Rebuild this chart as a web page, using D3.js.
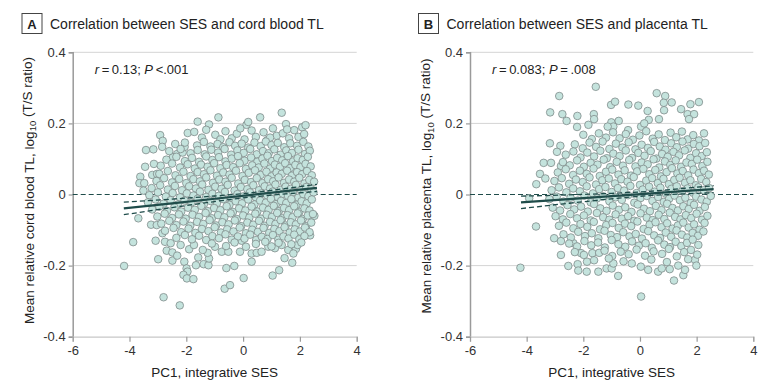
<!DOCTYPE html>
<html>
<head>
<meta charset="utf-8">
<script src="https://cdn.jsdelivr.net/npm/d3@7"></script>
<style>
  body { margin: 0; background: #fff; }
  svg { display: block; font-family: "Liberation Sans", Arial, sans-serif; }
</style>
</head>
<body>
<svg width="780" height="391"></svg>
<script>
const xTicks = [-6, -4, -2, 0, 2, 4];
const yTicks = [-0.4, -0.2, 0, 0.2, 0.4];
const gridTicks = [0.4, 0.2, -0.2];

// points (PC1, mean relative cord blood TL)
const cordPoints = [
  [-0.87,0.217],[-1.60,0.205],[-1.20,0.197],[-1.95,0.173],[0.12,0.196],[0.18,0.204],[0.60,0.217],[1.36,0.230],[1.51,0.198],[2.08,0.189],[2.20,0.195],
  [-2.92,0.167],[-2.83,0.151],[-2.85,0.134],[-3.42,0.125],[-3.16,0.127],[-2.39,0.142],[-2.32,0.114],[-2.13,0.118],[-2.06,0.134],[-2.47,0.105],
  [-3.14,0.086],[-3.45,0.078],[-3.20,0.055],[-3.03,0.058],[-3.62,0.050],[-3.65,0.032],[-3.48,0.032],[-3.51,0.011],
  [-4.19,-0.201],[-3.87,-0.134],[-3.69,-0.067],[-2.80,-0.289],[-2.23,-0.312],[-2.99,-0.182],[-3.08,-0.130],[-3.24,-0.085],[-3.04,-0.086],
  [-0.65,-0.265],[-0.46,-0.255],[0.02,-0.235],[-0.59,-0.207],[-0.31,-0.201],[0.30,-0.189],[1.04,-0.228],[1.27,-0.213],[1.46,-0.179],[1.73,-0.192],
  [1.86,-0.153],[2.36,-0.115],[2.51,-0.060],
  [-2.84,-0.109],[-2.75,-0.133],[-2.55,-0.137],[-2.69,-0.158],[-2.49,-0.163],[-2.49,-0.186],[-2.32,-0.172],[-2.07,-0.189],[-1.99,-0.208],
  [-1.96,-0.217],[-2.10,-0.226],[-1.98,-0.236],[-1.75,-0.238],[-1.66,-0.199],[-1.58,-0.177],[-1.39,-0.196],[-1.22,-0.199],[-1.20,-0.180],
  [-1.25,-0.164],[-1.90,-0.154],[-1.73,-0.142],[-1.42,-0.156],[-0.99,-0.147],[-0.75,-0.161],[-0.52,-0.161],[-0.11,-0.161],[-0.05,-0.130],
  [0.30,-0.166],[0.48,-0.164],[0.65,-0.161],[0.89,-0.147],[1.12,-0.151],[1.36,-0.142],[1.59,-0.156],[1.77,-0.166],[1.92,-0.142],
  [-1.72,0.176],[-1.45,0.160],[-1.30,0.182],[-0.98,0.168],[-0.80,0.155],[-0.62,0.178],[-0.40,0.158],[-0.22,0.171],[0.05,0.155],[0.30,0.180],
  [0.45,0.162],[0.72,0.175],[0.85,0.153],[1.05,0.186],[1.18,0.165],[1.40,0.172],[1.62,0.158],[1.80,0.181],[1.95,0.162],[2.15,0.170],[0.95,0.160],[1.55,0.183],[-0.10,0.186],
  [-2.05,0.146],[-1.62,0.138],[-1.38,0.148],[-1.15,0.135],[-0.90,0.142],[-0.70,0.133],[-0.48,0.147],[-0.28,0.137],[-0.05,0.143],[0.18,0.132],
  [0.40,0.146],[0.62,0.136],[0.80,0.149],[1.00,0.139],[1.22,0.145],[1.45,0.133],[1.66,0.144],[1.90,0.137],[2.12,0.148],[2.30,0.135],
  [-2.60,0.122],[-2.20,0.128],[-1.85,0.116],[-1.60,0.125],[-1.35,0.113],[-1.12,0.126],[-0.88,0.118],[-0.65,0.128],[-0.42,0.112],[-0.20,0.124],[0.02,0.117],
  [0.25,0.128],[0.48,0.113],[0.70,0.122],[0.90,0.116],[1.10,0.127],[1.32,0.112],[1.52,0.124],[1.72,0.117],[1.95,0.126],[2.18,0.114],[2.35,0.123],
  [-2.70,0.098],[-2.35,0.106],[-2.05,0.094],[-1.80,0.103],[-1.55,0.092],[-1.30,0.107],[-1.08,0.097],[-0.85,0.105],[-0.62,0.093],[-0.40,0.101],[-0.18,0.108],[0.05,0.095],
  [0.28,0.104],[0.50,0.092],[0.68,0.101],[0.86,0.109],[1.02,0.094],[1.20,0.103],[1.38,0.096],[1.58,0.108],[1.76,0.093],[1.92,0.102],[2.10,0.097],[2.28,0.106],
  [-2.90,0.081],[-2.50,0.087],[-2.22,0.076],[-1.95,0.085],[-1.70,0.073],[-1.48,0.084],[-1.25,0.078],[-1.02,0.088],[-0.80,0.074],[-0.58,0.083],[-0.35,0.077],[-0.12,0.088],
  [0.10,0.072],[0.32,0.082],[0.55,0.076],[0.75,0.087],[0.95,0.073],[1.12,0.084],[1.30,0.078],[1.48,0.088],[1.65,0.074],[1.84,0.083],[2.02,0.077],[2.20,0.086],[2.38,0.079],
  [-2.95,0.058],[-2.65,0.066],[-2.38,0.054],[-2.10,0.064],[-1.85,0.052],[-1.60,0.063],[-1.38,0.057],[-1.15,0.068],[-0.92,0.053],[-0.70,0.062],[-0.48,0.056],[-0.25,0.067],[-0.02,0.052],
  [0.20,0.061],[0.42,0.068],[0.62,0.055],[0.82,0.064],[1.00,0.051],[1.18,0.062],[1.36,0.058],[1.55,0.067],[1.72,0.053],[1.90,0.063],[2.08,0.057],[2.25,0.066],[2.42,0.054],
  [-3.05,0.038],[-2.78,0.046],[-2.50,0.034],[-2.25,0.044],[-2.00,0.032],[-1.75,0.043],[-1.52,0.037],[-1.30,0.048],[-1.06,0.033],[-0.84,0.042],[-0.62,0.036],[-0.40,0.047],[-0.17,0.031],
  [0.06,0.041],[0.28,0.035],[0.48,0.046],[0.68,0.032],[0.88,0.043],[1.06,0.037],[1.25,0.048],[1.44,0.033],[1.62,0.042],[1.80,0.036],[1.98,0.047],[2.16,0.031],[2.33,0.041],[2.50,0.036],
  [-3.22,0.018],[-2.92,0.026],[-2.65,0.014],[-2.40,0.024],[-2.15,0.012],[-1.90,0.023],[-1.66,0.017],[-1.44,0.028],[-1.22,0.013],[-0.98,0.022],[-0.76,0.016],[-0.54,0.027],[-0.30,0.011],
  [-0.08,0.021],[0.15,0.015],[0.36,0.026],[0.56,0.012],[0.76,0.023],[0.95,0.017],[1.14,0.028],[1.32,0.013],[1.50,0.022],[1.68,0.016],[1.86,0.027],[2.04,0.012],[2.22,0.021],[2.40,0.015],
  [-3.30,-0.002],[-3.00,0.006],[-2.72,-0.006],[-2.48,0.004],[-2.22,-0.008],[-1.98,0.003],[-1.75,-0.003],[-1.52,0.008],[-1.30,-0.007],[-1.08,0.002],[-0.86,-0.004],[-0.64,0.007],[-0.42,-0.009],[-0.20,0.001],
  [0.02,-0.005],[0.24,0.006],[0.45,-0.008],[0.65,0.003],[0.85,-0.003],[1.04,0.008],[1.22,-0.007],[1.40,0.002],[1.58,-0.004],[1.76,0.007],[1.94,-0.009],[2.12,0.001],[2.30,-0.005],[2.48,0.006],
  [-3.35,-0.022],[-3.08,-0.014],[-2.80,-0.026],[-2.55,-0.016],[-2.30,-0.028],[-2.06,-0.017],[-1.83,-0.023],[-1.60,-0.012],[-1.38,-0.027],[-1.15,-0.018],[-0.92,-0.024],[-0.70,-0.013],[-0.48,-0.029],[-0.26,-0.019],
  [-0.04,-0.025],[0.18,-0.014],[0.40,-0.028],[0.60,-0.017],[0.80,-0.023],[0.98,-0.012],[1.16,-0.027],[1.34,-0.018],[1.52,-0.024],[1.70,-0.013],[1.88,-0.029],[2.06,-0.019],[2.24,-0.025],[2.42,-0.014],
  [-3.20,-0.042],[-2.95,-0.034],[-2.68,-0.046],[-2.42,-0.036],[-2.18,-0.048],[-1.94,-0.037],[-1.70,-0.043],[-1.47,-0.032],[-1.24,-0.047],[-1.02,-0.038],[-0.80,-0.044],[-0.58,-0.033],[-0.36,-0.049],[-0.14,-0.039],
  [0.08,-0.045],[0.30,-0.034],[0.50,-0.048],[0.70,-0.037],[0.90,-0.043],[1.08,-0.032],[1.26,-0.047],[1.44,-0.038],[1.62,-0.044],[1.80,-0.033],[1.98,-0.049],[2.16,-0.039],[2.34,-0.045],
  [-3.02,-0.062],[-2.76,-0.054],[-2.50,-0.066],[-2.26,-0.056],[-2.02,-0.068],[-1.78,-0.057],[-1.55,-0.063],[-1.32,-0.052],[-1.10,-0.067],[-0.88,-0.058],[-0.66,-0.064],[-0.44,-0.053],[-0.22,-0.069],
  [0.00,-0.059],[0.22,-0.065],[0.43,-0.054],[0.63,-0.068],[0.83,-0.057],[1.02,-0.063],[1.20,-0.052],[1.38,-0.067],[1.56,-0.058],[1.74,-0.064],[1.92,-0.053],[2.10,-0.069],[2.28,-0.059],[2.46,-0.055],
  [-2.88,-0.082],[-2.60,-0.074],[-2.35,-0.086],[-2.10,-0.076],[-1.86,-0.088],[-1.62,-0.077],[-1.40,-0.083],[-1.18,-0.072],[-0.95,-0.087],[-0.73,-0.078],[-0.51,-0.084],[-0.29,-0.073],[-0.07,-0.089],
  [0.15,-0.079],[0.36,-0.085],[0.56,-0.074],[0.76,-0.088],[0.95,-0.077],[1.14,-0.083],[1.32,-0.072],[1.50,-0.087],[1.68,-0.078],[1.86,-0.084],[2.04,-0.073],[2.22,-0.089],[2.40,-0.079],
  [-2.75,-0.102],[-2.45,-0.094],[-2.18,-0.106],[-1.92,-0.096],[-1.68,-0.108],[-1.45,-0.097],[-1.22,-0.103],[-1.00,-0.092],[-0.78,-0.107],[-0.56,-0.098],[-0.34,-0.104],[-0.12,-0.093],
  [0.10,-0.109],[0.32,-0.099],[0.52,-0.105],[0.72,-0.094],[0.92,-0.108],[1.10,-0.097],[1.28,-0.103],[1.46,-0.092],[1.64,-0.107],[1.82,-0.098],[2.00,-0.104],[2.18,-0.093],[2.34,-0.106],
  [-2.35,-0.122],[-2.05,-0.114],[-1.80,-0.126],[-1.55,-0.116],[-1.30,-0.128],[-1.08,-0.117],[-0.85,-0.123],[-0.62,-0.112],[-0.40,-0.127],[-0.18,-0.118],[0.05,-0.124],
  [0.25,-0.113],[0.46,-0.128],[0.66,-0.119],[0.86,-0.125],[1.05,-0.114],[1.24,-0.127],[1.42,-0.118],[1.60,-0.124],[1.80,-0.113],[1.98,-0.126],[2.16,-0.117],
  [-2.20,-0.142],[-1.10,-0.138],[-0.60,-0.145],[-0.30,-0.135],[0.10,-0.147],[0.45,-0.139],[0.78,-0.133],[1.00,-0.146],[1.25,-0.136],[1.70,-0.140],[2.05,-0.135]
];

// points (PC1, mean relative placenta TL)
const placentaPoints = [
  [-1.56,0.303],[-2.85,0.277],[-3.17,0.231],[-2.74,0.226],[-1.63,0.226],[-1.62,0.212],[-1.02,0.252],[-0.88,0.261],[-0.41,0.253],[-0.06,0.250],
  [0.59,0.285],[0.89,0.277],[0.84,0.258],[1.12,0.259],[0.85,0.237],[0.27,0.235],[1.45,0.240],[1.78,0.254],[2.08,0.260],[1.68,0.226],[1.91,0.226],[1.73,0.212],
  [-2.59,0.207],[-2.21,0.221],[-2.22,0.190],[-1.82,0.196],[-3.18,0.144],[-2.81,0.137],[-2.93,0.120],[-3.40,0.089],[-3.14,0.089],[-2.79,0.080],
  [-3.53,0.058],[-3.34,0.045],[-3.66,0.029],[-3.91,-0.011],[-1.01,0.203],[-0.75,0.207],[-0.94,0.191],[-1.14,0.191],[-0.42,0.181],[0.04,0.191],
  [0.31,0.210],[0.15,0.200],[0.67,0.212],
  [-4.22,-0.206],[-3.67,-0.090],[-2.79,-0.170],[-2.53,-0.201],[-2.20,-0.196],[-2.18,-0.214],[-1.88,-0.217],[-1.87,-0.189],[-2.08,-0.165],
  [-1.47,-0.217],[-1.18,-0.208],[-1.00,-0.208],[-0.94,-0.194],[-0.77,-0.229],[-1.68,-0.165],[-1.44,-0.164],[0.04,-0.287],[-0.29,-0.194],
  [0.03,-0.203],[0.29,-0.212],[0.64,-0.217],[0.77,-0.208],[1.05,-0.210],[1.20,-0.242],[1.35,-0.200],[1.53,-0.227],[1.59,-0.212],[1.94,-0.184],
  [1.99,-0.200],[-2.79,-0.131],[-3.03,-0.123],[-2.35,-0.137],
  [-2.00,0.168],[-1.70,0.156],[-1.45,0.172],[-1.20,0.160],[-0.95,0.175],[-0.72,0.158],[-0.50,0.170],[-0.25,0.154],[-0.02,0.166],[0.22,0.178],
  [0.45,0.157],[0.66,0.169],[0.88,0.153],[1.08,0.174],[1.28,0.161],[1.48,0.177],[1.68,0.155],[1.88,0.167],[2.08,0.152],[2.26,0.172],
  [-2.30,0.141],[-2.02,0.130],[-1.78,0.146],[-1.55,0.134],[-1.32,0.149],[-1.08,0.128],[-0.85,0.143],[-0.62,0.132],[-0.40,0.147],[-0.16,0.127],[0.06,0.140],
  [0.28,0.131],[0.50,0.148],[0.70,0.135],[0.90,0.126],[1.10,0.144],[1.30,0.133],[1.50,0.149],[1.70,0.129],[1.90,0.142],[2.10,0.136],[2.30,0.145],
  [-2.62,0.112],[-2.35,0.121],[-2.10,0.104],[-1.86,0.118],[-1.62,0.107],[-1.40,0.123],[-1.17,0.102],[-0.94,0.115],[-0.72,0.108],[-0.50,0.124],[-0.28,0.103],[-0.06,0.117],
  [0.16,0.109],[0.38,0.122],[0.58,0.101],[0.78,0.114],[0.98,0.106],[1.18,0.120],[1.38,0.110],[1.58,0.124],[1.78,0.103],[1.98,0.116],[2.18,0.108],[2.36,0.119],
  [-2.72,0.091],[-2.48,0.082],[-2.22,0.096],[-1.98,0.078],[-1.74,0.089],[-1.50,0.084],[-1.28,0.098],[-1.05,0.077],[-0.82,0.092],[-0.60,0.081],[-0.38,0.097],[-0.16,0.079],
  [0.06,0.090],[0.27,0.085],[0.48,0.099],[0.68,0.076],[0.88,0.093],[1.07,0.083],[1.26,0.096],[1.45,0.078],[1.64,0.090],[1.83,0.086],[2.02,0.098],[2.20,0.080],[2.38,0.092],
  [-2.90,0.062],[-2.62,0.071],[-2.36,0.055],[-2.12,0.067],[-1.88,0.058],[-1.64,0.073],[-1.42,0.052],[-1.20,0.064],[-0.98,0.070],[-0.76,0.056],[-0.54,0.068],[-0.32,0.053],[-0.10,0.065],
  [0.12,0.072],[0.33,0.057],[0.54,0.069],[0.74,0.051],[0.94,0.063],[1.13,0.074],[1.32,0.059],[1.51,0.066],[1.70,0.054],[1.89,0.070],[2.08,0.060],[2.26,0.067],[2.43,0.056],
  [-3.02,0.038],[-2.76,0.046],[-2.50,0.030],[-2.26,0.042],[-2.02,0.035],[-1.78,0.048],[-1.55,0.028],[-1.33,0.040],[-1.10,0.045],[-0.88,0.031],[-0.66,0.043],[-0.44,0.036],[-0.22,0.049],
  [0.00,0.027],[0.22,0.039],[0.43,0.046],[0.63,0.032],[0.83,0.044],[1.02,0.029],[1.21,0.041],[1.40,0.047],[1.59,0.033],[1.78,0.040],[1.97,0.026],[2.16,0.044],[2.34,0.035],
  [-3.12,0.012],[-2.86,0.020],[-2.60,0.006],[-2.36,0.017],[-2.12,0.009],[-1.88,0.023],[-1.66,0.003],[-1.44,0.015],[-1.22,0.021],[-1.00,0.007],[-0.78,0.018],[-0.56,0.011],[-0.34,0.024],[-0.12,0.004],
  [0.10,0.014],[0.32,0.022],[0.52,0.008],[0.72,0.019],[0.92,0.002],[1.11,0.016],[1.30,0.023],[1.49,0.009],[1.68,0.017],[1.87,0.005],[2.06,0.020],[2.25,0.012],[2.44,0.018],
  [-3.20,-0.013],[-2.94,-0.006],[-2.70,-0.020],[-2.45,-0.009],[-2.20,-0.017],[-1.96,-0.003],[-1.74,-0.022],[-1.52,-0.011],[-1.30,-0.005],[-1.08,-0.019],[-0.86,-0.008],[-0.64,-0.015],[-0.42,-0.002],[-0.20,-0.023],
  [0.02,-0.010],[0.24,-0.004],[0.44,-0.018],[0.64,-0.007],[0.84,-0.021],[1.03,-0.012],[1.22,-0.003],[1.41,-0.016],[1.60,-0.009],[1.79,-0.024],[1.98,-0.006],[2.17,-0.014],[2.36,-0.020],[2.50,-0.004],
  [-3.08,-0.037],[-2.82,-0.045],[-2.56,-0.030],[-2.32,-0.042],[-2.08,-0.034],[-1.84,-0.048],[-1.62,-0.027],[-1.40,-0.039],[-1.18,-0.046],[-0.96,-0.031],[-0.74,-0.043],[-0.52,-0.036],[-0.30,-0.049],
  [-0.08,-0.028],[0.14,-0.040],[0.35,-0.047],[0.56,-0.032],[0.76,-0.044],[0.96,-0.026],[1.15,-0.038],[1.34,-0.045],[1.53,-0.033],[1.72,-0.041],[1.91,-0.029],[2.10,-0.046],[2.29,-0.035],
  [-2.98,-0.061],[-2.72,-0.070],[-2.46,-0.055],[-2.22,-0.067],[-1.98,-0.059],[-1.74,-0.073],[-1.52,-0.052],[-1.30,-0.064],[-1.08,-0.071],[-0.86,-0.056],[-0.64,-0.068],[-0.42,-0.061],[-0.20,-0.074],
  [0.02,-0.053],[0.24,-0.065],[0.45,-0.072],[0.66,-0.057],[0.86,-0.069],[1.05,-0.051],[1.24,-0.063],[1.43,-0.070],[1.62,-0.058],[1.81,-0.066],[2.00,-0.054],[2.19,-0.071],[2.38,-0.060],
  [-2.86,-0.088],[-2.60,-0.079],[-2.35,-0.095],[-2.10,-0.083],[-1.86,-0.091],[-1.63,-0.077],[-1.41,-0.098],[-1.19,-0.086],[-0.97,-0.080],[-0.75,-0.094],[-0.53,-0.082],[-0.31,-0.089],[-0.09,-0.076],
  [0.13,-0.097],[0.34,-0.085],[0.55,-0.078],[0.76,-0.092],[0.96,-0.081],[1.15,-0.096],[1.34,-0.087],[1.53,-0.079],[1.72,-0.093],[1.91,-0.084],[2.10,-0.099],[2.28,-0.080],
  [-2.70,-0.112],[-2.44,-0.121],[-2.18,-0.105],[-1.94,-0.117],[-1.70,-0.109],[-1.47,-0.123],[-1.25,-0.102],[-1.03,-0.114],[-0.81,-0.120],[-0.59,-0.106],[-0.37,-0.118],[-0.15,-0.111],
  [0.07,-0.124],[0.29,-0.103],[0.50,-0.115],[0.71,-0.122],[0.91,-0.107],[1.10,-0.119],[1.29,-0.101],[1.48,-0.113],[1.67,-0.121],[1.86,-0.108],[2.05,-0.116],[2.24,-0.104],
  [-2.50,-0.138],[-2.22,-0.146],[-1.96,-0.131],[-1.72,-0.143],[-1.48,-0.135],[-1.24,-0.149],[-1.00,-0.128],[-0.76,-0.140],[-0.52,-0.147],[-0.28,-0.132],[-0.04,-0.144],
  [0.20,-0.137],[0.42,-0.150],[0.64,-0.129],[0.86,-0.141],[1.06,-0.148],[1.26,-0.133],[1.46,-0.145],[1.66,-0.136],[1.86,-0.127],[2.06,-0.142],
  [-2.30,-0.162],[-1.98,-0.170],[-1.25,-0.158],[-0.98,-0.173],[-0.68,-0.161],[-0.40,-0.168],[-0.12,-0.155],[0.18,-0.172],[0.48,-0.160],[0.78,-0.167],
  [1.02,-0.153],[1.30,-0.174],[1.56,-0.162],[1.80,-0.156],[2.02,-0.169],
  [-1.62,-0.185],[-0.58,-0.188],[0.40,-0.183],[0.95,-0.190],[1.70,-0.182],[-1.10,-0.180]
];

// fitted line and 95% CI, read at a few PC1 values
const fitX = [-4.2, -2.5, -1, 0.3, 1.5, 2.6];
const cordFit = [-0.0392, -0.0248, -0.0120, -0.0010, 0.0093, 0.0186];
const cordUpper = [-0.0215, -0.0129, -0.0042, 0.0050, 0.0169, 0.0287];
const cordLower = [-0.0569, -0.0367, -0.0198, -0.0070, 0.0017, 0.0085];
const placentaFit = [-0.0221, -0.0128, -0.0045, 0.0027, 0.0093, 0.0150];
const placentaUpper = [-0.0046, -0.0010, 0.0033, 0.0087, 0.0169, 0.0248];
const placentaLower = [-0.0396, -0.0246, -0.0123, -0.0033, 0.0017, 0.0052];

const svg = d3.select('svg');

const POINT_FILL = '#c4e3dd';
const POINT_STROKE = '#7f8b8a';
const LINE_COLOUR = '#1f4c4a';

const fmtY = d => d === 0 ? '0' : d3.format('.1f')(d).replace('\u2212', '-');
const fmtX = d => String(d);

function drawPanel(opts) {
    const X_SCALE = d3.scaleLinear().domain([-6, 4]).range([opts.left, opts.right]);
    const Y_SCALE = d3.scaleLinear().domain([-0.4, 0.4]).range([336.7, 52.3]);
    const g = svg.append('g');

    // panel letter + title
    g.append('rect')
        .attr('x', opts.boxX).attr('y', 13.5)
        .attr('width', 20).attr('height', 20)
        .attr('fill', 'none').attr('stroke', '#444').attr('stroke-width', 1);
    g.append('text')
        .attr('x', opts.boxX + 10).attr('y', 28.5)
        .attr('text-anchor', 'middle')
        .style('font-size', '13px').style('font-weight', 'bold').style('fill', '#222')
        .text(opts.letter);
    g.append('text')
        .attr('x', opts.boxX + 28).attr('y', 28.5)
        .style('font-size', '14px').style('fill', '#222')
        .text(opts.title);

    // grid
    g.selectAll('.grid')
        .data(gridTicks)
        .join('line')
        .attr('x1', opts.left).attr('x2', opts.right)
        .attr('y1', d => Y_SCALE(d)).attr('y2', d => Y_SCALE(d))
        .attr('stroke', '#d4d4d4').attr('stroke-width', 1);

    // axes
    const yAxis = g.append('g')
        .attr('transform', `translate(${opts.left},0)`)
        .call(d3.axisLeft(Y_SCALE).tickValues(yTicks).tickFormat(fmtY).tickSize(4).tickPadding(3));
    const xAxis = g.append('g')
        .attr('transform', `translate(0,${Y_SCALE(-0.4)})`)
        .call(d3.axisBottom(X_SCALE).tickValues(xTicks).tickFormat(fmtX).tickSize(5).tickPadding(4));
    [yAxis, xAxis].forEach(a => {
        a.select('.domain').attr('stroke', '#9a9a9a').attr('stroke-width', 1.5);
        a.selectAll('.tick line').attr('stroke', '#9a9a9a').attr('stroke-width', 1.2);
        a.selectAll('.tick text')
            .style('font-size', '13px').style('fill', '#333')
            .style('font-family', '"Liberation Sans", Arial, sans-serif');
    });
    xAxis.select('.domain').attr('stroke', '#c8c8c8').attr('stroke-width', 1.2);

    // zero reference
    g.append('line')
        .attr('x1', opts.left).attr('x2', opts.right)
        .attr('y1', Y_SCALE(0)).attr('y2', Y_SCALE(0))
        .attr('stroke', LINE_COLOUR).attr('stroke-width', 1)
        .attr('stroke-dasharray', '5,3');

    // points
    g.append('g')
        .selectAll('circle')
        .data(opts.points)
        .join('circle')
        .attr('cx', d => X_SCALE(d[0]))
        .attr('cy', d => Y_SCALE(d[1]))
        .attr('r', 3.8)
        .attr('fill', POINT_FILL)
        .attr('stroke', POINT_STROKE)
        .attr('stroke-width', 0.8);

    // regression + CI
    const line = d3.line()
        .x((d, i) => X_SCALE(fitX[i]))
        .y(d => Y_SCALE(d))
        .curve(d3.curveNatural);
    [opts.lower, opts.upper].forEach(arr => {
        g.append('path')
            .attr('d', line(arr))
            .attr('fill', 'none').attr('stroke', LINE_COLOUR)
            .attr('stroke-width', 1.3).attr('stroke-dasharray', '5,3');
    });
    g.append('path')
        .attr('d', line(opts.fit))
        .attr('fill', 'none').attr('stroke', LINE_COLOUR).attr('stroke-width', 2.2);

    // stats annotation
    const note = g.append('text')
        .attr('x', opts.left + 22).attr('y', 74)
        .style('font-size', '13px').style('fill', '#222');
    note.append('tspan').style('font-style', 'italic').text('r');
    note.append('tspan').text(`\u2009=\u2009${opts.r}; `);
    note.append('tspan').style('font-style', 'italic').text('P');
    note.append('tspan').text(`\u2009${opts.p}`);

    // axis titles
    g.append('text')
        .attr('x', (opts.left + opts.right) / 2).attr('y', 376.5)
        .attr('text-anchor', 'middle')
        .style('font-size', '13.5px').style('fill', '#222')
        .text('PC1, integrative SES');

    const yl = g.append('text')
        .attr('transform', `translate(${opts.yLabelX},${opts.yLabelY}) rotate(-90)`)
        .attr('text-anchor', 'middle')
        .style('font-size', '13.5px').style('fill', '#222');
    yl.append('tspan').text(`Mean relative ${opts.tissue} TL, log`);
    yl.append('tspan').attr('dy', '0.3em').style('font-size', '9.5px').text('10');
    yl.append('tspan').attr('dy', '-0.3em').text(' (T/S ratio)');
}

drawPanel({
    letter: 'A', title: 'Correlation between SES and cord blood TL', tissue: 'cord blood',
    left: 72.7, right: 356.7, boxX: 22, yLabelX: 33.5, yLabelY: 190.5,
    points: cordPoints, fit: cordFit, upper: cordUpper, lower: cordLower,
    r: '0.13', p: '<.001'
});

drawPanel({
    letter: 'B', title: 'Correlation between SES and placenta TL', tissue: 'placenta',
    left: 470, right: 753.3, boxX: 418.5, yLabelX: 431, yLabelY: 186,
    points: placentaPoints, fit: placentaFit, upper: placentaUpper, lower: placentaLower,
    r: '0.083', p: '=\u2009.008'
});
</script>
</body>
</html>
